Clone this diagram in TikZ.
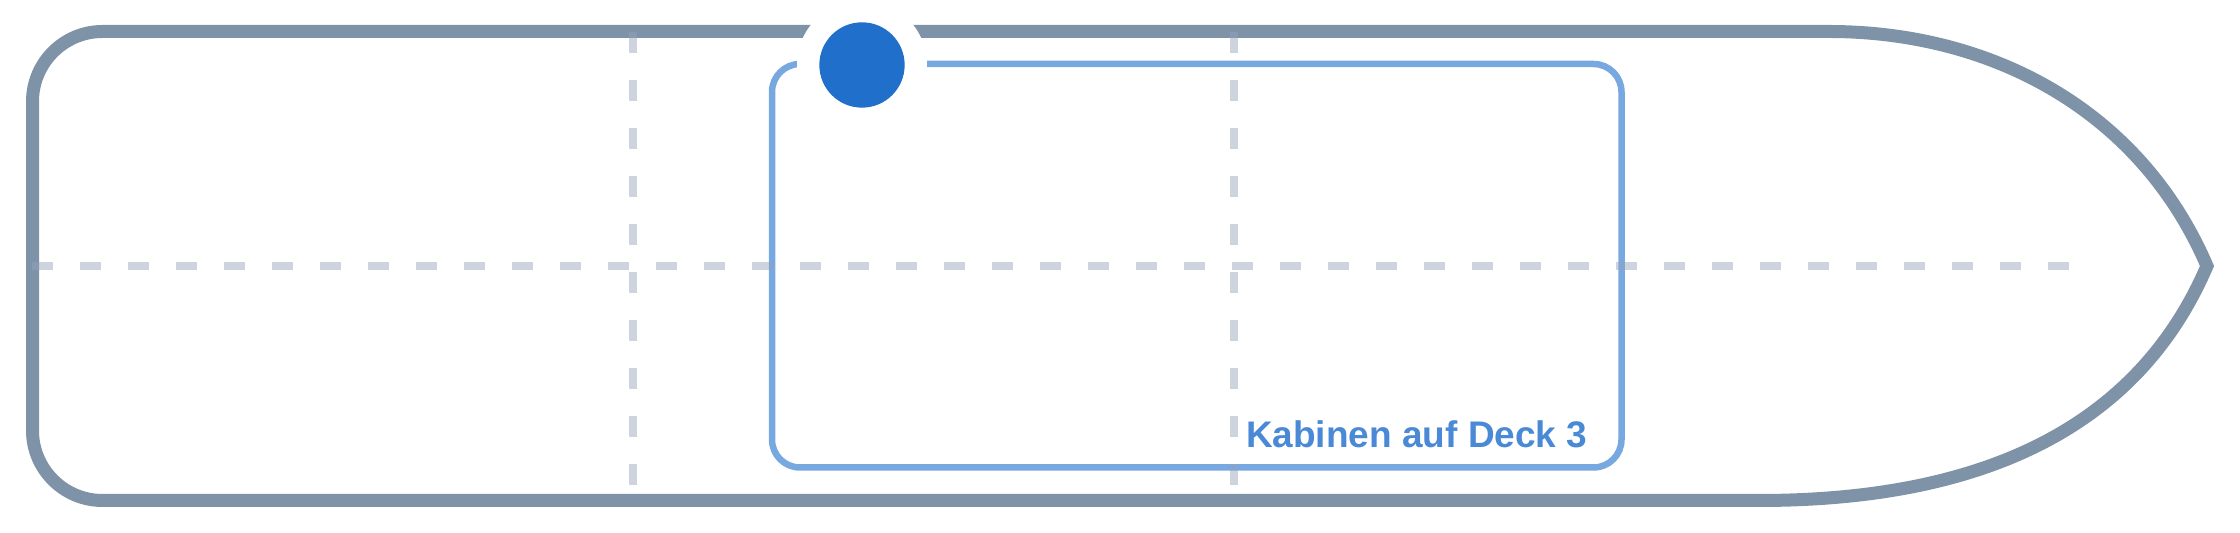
\documentclass[tikz,border=0pt]{standalone}
\usepackage{fontspec}
\setmainfont{Liberation Sans}
\definecolor{hullc}{HTML}{7F93A8}
\definecolor{gridc}{HTML}{94A3B8}
\definecolor{boxc}{HTML}{77A8E0}
\definecolor{dotc}{HTML}{1F6FCB}
\definecolor{labelc}{HTML}{4A89D6}
\tikzset{
  hull/.style={draw=hullc, line width=3.9pt, line join=miter},
  grid/.style={draw=gridc, draw opacity=0.47, line width=2.4pt, dash pattern=on 6.3pt off 8.1pt},
  deckbox/.style={draw=boxc, line width=1.95pt, rounded corners=8.4pt},
  halo/.style={circle, fill=white, minimum size=39pt, inner sep=0pt},
  marker/.style={circle, fill=dotc, minimum size=25.6pt, inner sep=0pt},
  decklabel/.style={text=labelc, font=\bfseries\fontsize{11.1pt}{13pt}\selectfont, inner sep=0pt, anchor=base east}
}
\begin{document}
\begin{tikzpicture}[x=0.3pt, y=-0.3pt]
\useasboundingbox (0,0) rectangle (2240,533);
% grid
\coordinate (h1) at (32,266);
\coordinate (h2) at (2075,266);
\coordinate (v1t) at (633,32);
\coordinate (v1b) at (633,500);
\coordinate (v2t) at (1234,32);
\coordinate (v2b) at (1234,500);
% hull
\draw[hull] (1759,500.5) [rounded corners=21pt] -- (32.5,500.5) -- (32.5,31.5) -- (1759,31.5) [sharp corners]
  .. controls (1990.7,31.5) and (2140,109.7) .. (2207,266)
  .. controls (2140,422.3) and (1990.7,500.5) .. (1759,500.5);
% deck box
\draw[deckbox] (772,64) rectangle (1621.5,467.5);
\draw[grid] (h1) -- (h2);
\draw[grid] (v1t) -- (v1b);
\draw[grid] (v2t) -- (v2b);
% marker
\node[halo] (halo) at (862,65) {};
\node[marker] (mark) at (862,65) {};
% label
\node[decklabel] (lbl) at (1588,448) {Kabinen auf Deck 3};
\end{tikzpicture}
\end{document}
